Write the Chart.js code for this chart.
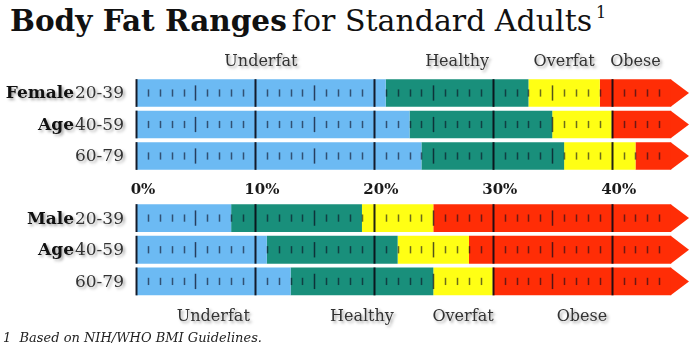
<!DOCTYPE html>
<html>
<head>
<meta charset="utf-8">
<script src="https://cdn.jsdelivr.net/npm/chart.js@4/dist/chart.umd.min.js"></script>
<style>
    body { margin: 0; background: #ffffff; }
    #wrap { position: relative; width: 694px; height: 353px; overflow: hidden; }
    .box { position: absolute; left: 0; width: 694px; }
    #title { position: absolute; left: 10px; top: -5px; line-height: 36px; white-space: nowrap; color: #111; font-family: "DejaVu Serif", serif; }
    #title b { font-size: 29.5px; }
    #title span { font-size: 30px; }
    #title sup { font-size: 16px; vertical-align: 13px; margin-left: 4px; }
    #note { position: absolute; left: 3px; top: 330px; font-family: "DejaVu Serif", serif; font-style: italic; font-size: 13px; color: #222; white-space: nowrap; }
</style>
</head>
<body>
<div id="wrap">
    <div id="title"><b>Body Fat Ranges</b> <span>for Standard Adults</span><sup>1</sup></div>
    <div class="box" style="top:0; height:200px;"><canvas id="female-chart"></canvas></div>
    <div class="box" style="top:200px; height:153px;"><canvas id="male-chart"></canvas></div>
    <div id="note">1&nbsp; Based on NIH/WHO BMI Guidelines.</div>
</div>

<script>
// Body Fat Ranges

const ageGroups = ['20-39', '40-59', '60-79'];
const rangeNames = ['Underfat', 'Healthy', 'Overfat', 'Obese'];
const rangeColors = ['#6cbaf3', '#198f7b', '#ffff14', '#ff2d06'];

// where each range starts, per age group (% body fat)
const femaleHealthyFrom = [21, 23, 24];
const femaleOverfatFrom = [33, 35, 36];
const femaleObeseFrom = [39, 40, 42];

const maleHealthyFrom = [8, 11, 13];
const maleOverfatFrom = [19, 22, 25];
const maleObeseFrom = [25, 28, 30];

const femaleWords = ['Female', 'Age', ''];
const maleWords = ['Male', 'Age', ''];

const axisTicks = [0, 10, 20, 30, 40];
const barEnd = 45;
const arrowTip = 46.5;

const serif = '"DejaVu Serif", serif';

function buildDatasets(healthy, overfat, obese) {
    const starts = [ageGroups.map(() => 0), healthy, overfat, obese];
    const ends = [healthy, overfat, obese, ageGroups.map(() => barEnd)];
    return rangeNames.map((name, k) => ({
        label: name,
        data: ageGroups.map((g, i) => [starts[k][i], ends[k][i]]),
        backgroundColor: rangeColors[k],
        borderWidth: 0,
        categoryPercentage: 1,
        barPercentage: 0.88,
        grouped: false
    }));
}

function withShadow(ctx) {
    ctx.shadowColor = 'rgba(0,0,0,0.35)';
    ctx.shadowBlur = 3;
    ctx.shadowOffsetX = 2;
    ctx.shadowOffsetY = 2;
}

// arrow heads, ruler marks and row / range labels
const rulerPlugin = {
    id: 'ruler',
    afterDatasetsDraw(chart, args, opts) {
        const ctx = chart.ctx;
        const x = chart.scales.x;
        const area = chart.chartArea;
        const first = chart.getDatasetMeta(0).data;
        const last = chart.getDatasetMeta(3).data;

        ctx.save();
        // arrow heads on the obese segment
        last.forEach(bar => {
            const top = bar.y - bar.height / 2;
            const bottom = bar.y + bar.height / 2;
            ctx.beginPath();
            ctx.moveTo(x.getPixelForValue(barEnd) - 0.5, top);
            ctx.lineTo(x.getPixelForValue(arrowTip), bar.y);
            ctx.lineTo(x.getPixelForValue(barEnd) - 0.5, bottom);
            ctx.closePath();
            ctx.fillStyle = rangeColors[3];
            ctx.fill();
        });

        // tick marks inside each bar
        first.forEach(bar => {
            const h = bar.height;
            for (let v = 0; v < barEnd; v++) {
                const px = Math.round(x.getPixelForValue(v)) + 0.5;
                let len, w, col;
                if (v % 10 === 0) { len = h; w = 2; col = 'rgba(10,10,20,0.9)'; }
                else if (v % 5 === 0) { len = h * 0.55; w = 1.5; col = 'rgba(10,10,30,0.7)'; }
                else { len = h * 0.26; w = 1.5; col = 'rgba(10,10,30,0.6)'; }
                ctx.beginPath();
                ctx.moveTo(px, bar.y - len / 2);
                ctx.lineTo(px, bar.y + len / 2);
                ctx.lineWidth = w;
                ctx.strokeStyle = col;
                ctx.stroke();
            }
        });

        withShadow(ctx);
        // row labels: bold group word + age range
        ctx.textBaseline = 'middle';
        first.forEach((bar, i) => {
            const right = area.left - 12;
            ctx.font = '17px ' + serif;
            ctx.fillStyle = '#333';
            ctx.textAlign = 'right';
            ctx.fillText(ageGroups[i], right, bar.y + 1);
            const ageW = ctx.measureText(ageGroups[i]).width;
            if (opts.words[i]) {
                ctx.font = 'bold 17px ' + serif;
                ctx.fillStyle = '#111';
                ctx.fillText(opts.words[i], right - ageW - 1, bar.y + 1);
            }
        });

        // range names centred on one row's segments
        const r = opts.labelRow;
        const bounds = [0, opts.healthy[r], opts.overfat[r], opts.obese[r], barEnd];
        ctx.font = '16px ' + serif;
        ctx.fillStyle = '#333';
        ctx.textAlign = 'center';
        const ly = opts.above ? area.top - 15 : area.bottom + 20;
        rangeNames.forEach((name, k) => {
            const mid = x.getPixelForValue((bounds[k] + bounds[k + 1]) / 2);
            ctx.fillText(name, mid, ly);
        });
        ctx.restore();
    }
};

function makeChart(canvasId, healthy, overfat, obese, words, labelRow, above, padding, showAxis) {
    const ctx = document.getElementById(canvasId).getContext('2d');
    return new Chart(ctx, {
        type: 'bar',
        data: {
            labels: ageGroups,
            datasets: buildDatasets(healthy, overfat, obese)
        },
        options: {
            indexAxis: 'y',
            responsive: true,
            maintainAspectRatio: false,
            animation: false,
            layout: { padding: padding },
            plugins: {
                legend: { display: false },
                tooltip: { enabled: false },
                ruler: { words: words, labelRow: labelRow, above: above, healthy: healthy, overfat: overfat, obese: obese }
            },
            scales: {
                x: {
                    type: 'linear',
                    min: 0,
                    max: arrowTip,
                    display: showAxis,
                    position: 'bottom',
                    grid: { display: false, drawTicks: false },
                    border: { display: false },
                    afterBuildTicks: scale => { scale.ticks = axisTicks.map(v => ({ value: v })); },
                    afterFit: scale => { if (showAxis) scale.height = 28.25; },
                    ticks: {
                        font: { family: serif, size: 15, weight: 'bold' },
                        color: '#1a1a1a',
                        padding: 9,
                        labelOffset: 7,
                        maxRotation: 0,
                        autoSkip: false,
                        callback: v => v + '%'
                    }
                },
                y: {
                    type: 'category',
                    display: false
                }
            }
        },
        plugins: [rulerPlugin]
    });
}

makeChart('female-chart', femaleHealthyFrom, femaleOverfatFrom, femaleObeseFrom, femaleWords, 0, true,
    { top: 77.25, left: 136, right: 5, bottom: 0 }, true);
makeChart('male-chart', maleHealthyFrom, maleOverfatFrom, maleObeseFrom, maleWords, 2, false,
    { top: 2.25, left: 136, right: 5, bottom: 55.75 }, false);
</script>
</body>
</html>
